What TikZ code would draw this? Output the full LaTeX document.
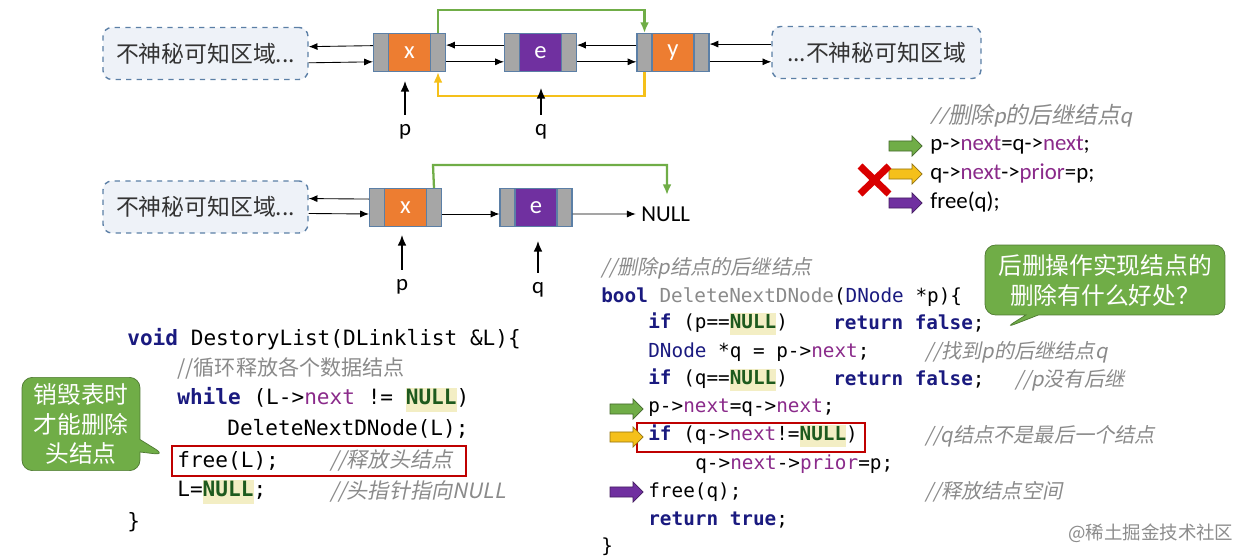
\documentclass[tikz,border=0pt]{standalone}
\usepackage{fontspec}
\usetikzlibrary{arrows.meta,shapes.arrows,shapes.callouts}
\setmainfont{Carlito}
\setmonofont{DejaVu Sans Mono}
\newfontfamily\cjk{Noto Sans CJK SC}
\newfontfamily\cjki[FakeSlant=0.2]{Noto Sans CJK SC}
\newfontfamily\cali[FakeSlant=0.2]{Carlito}
\definecolor{kwc}{HTML}{1A1A7F}
\definecolor{pur}{HTML}{8A2A8A}
\definecolor{nlc}{HTML}{1E5A1E}
\definecolor{nlbg}{HTML}{F3EEC4}
\definecolor{cmc}{HTML}{8A8A8A}
\definecolor{orn}{HTML}{ED7D31}
\definecolor{vio}{HTML}{7030A0}
\definecolor{gcell}{HTML}{A6A6A6}
\definecolor{gbord}{HTML}{5B7FA6}
\definecolor{grn}{HTML}{70AD47}
\definecolor{yel}{HTML}{F5C01A}
\definecolor{cloudf}{HTML}{EEF2F8}
\newcommand{\kw}[1]{\textcolor{kwc}{\bfseries #1}}
\newcommand{\pp}[1]{\textcolor{pur}{#1}}
\newcommand{\nl}{{\setlength{\fboxsep}{0pt}\colorbox{nlbg}{\strut\textcolor{nlc}{\bfseries NULL}}}}
\newcommand{\lnode}[5]{%
  \node[cellg] (#1-l) at (#2-28.5,#3) {};
  \node[cellc,fill=#4] (#1) at (#2,#3) {#5};
  \node[cellg] (#1-r) at (#2+28.5,#3) {};}
\begin{document}
\begin{tikzpicture}[x=0.02cm,y=-0.02cm,
  cellg/.style={draw=gbord,fill=gcell,minimum width=0.3cm,minimum height=0.76cm,inner sep=0pt,line width=0.6pt},
  cellc/.style={draw=gbord,minimum width=0.84cm,minimum height=0.76cm,inner sep=0pt,text=white,font=\fontsize{14}{14}\selectfont,line width=0.6pt},
  cloud/.style={draw=gbord,dashed,fill=cloudf,rounded corners=5pt,minimum width=4.1cm,minimum height=1.04cm,font=\cjk\fontsize{13}{13}\selectfont,text=black!80,line width=0.8pt},
  link/.style={-{Latex[length=5pt,width=4pt]},line width=0.5pt},
  ptr/.style={-{Latex[length=6pt,width=5pt]},line width=0.9pt},
  lbl/.style={font=\fontsize{13}{13}\selectfont},
  blk/.style={single arrow,minimum height=0.66cm,minimum width=0.4cm,single arrow head extend=2.5pt,inner sep=2.4pt,draw=#1!60!black,fill=#1},
  lcode/.style={anchor=west,inner sep=0pt,font=\ttfamily\fontsize{12}{14}\selectfont},
  rcode/.style={anchor=west,inner sep=0pt,font=\ttfamily\fontsize{11}{13}\selectfont},
  cmt/.style={anchor=west,inner sep=0pt,text=cmc,font=\cjki\fontsize{11.5}{13}\selectfont},
  callg/.style={rectangle callout,fill=grn,draw=grn!70!black,rounded corners=6pt,text=white,align=center,font=\cjk\fontsize{13.5}{17}\selectfont}]
\useasboundingbox (0,0) rectangle (1243,560);
% ---------- top list
\node[cloud] (c1) at (205.5,53.5) {不神秘可知区域...};
\node[cloud,minimum width=4.18cm] (c2) at (876.5,52.5) {...不神秘可知区域};
\lnode{x}{409.5}{52.5}{orn}{x}
\lnode{e}{540.5}{52.5}{vio}{e}
\lnode{y}{673}{52.5}{orn}{y}
\draw[link] ([yshift=3.9pt]x-l.west) -- ([yshift=3.9pt]c1.east);
\draw[link] ([yshift=-5.3pt]c1.east) -- ([yshift=-5.3pt]x-l.west);
\draw[link] ([yshift=4.2pt]e-l.west) -- ([yshift=4.2pt]x-r.east);
\draw[link] ([yshift=-5.3pt]x-r.east) -- ([yshift=-5.3pt]e-l.west);
\draw[link] ([yshift=4.2pt]y-l.west) -- ([yshift=4.2pt]e-r.east);
\draw[link] ([yshift=-5.3pt]e-r.east) -- ([yshift=-5.3pt]y-l.west);
\draw[link] ([yshift=4.8pt]c2.west) -- ([yshift=4.8pt]y-r.east);
\draw[link] ([yshift=-5.3pt]y-r.east) -- ([yshift=-5.3pt]c2.west);
\draw[grn,line width=1.3pt,-{Latex[length=6pt,width=5pt]}] (x-r.north) -- ++(0,-23) -| (y-l.north);
\draw[yel,line width=1.3pt,-{Latex[length=6pt,width=5pt]}] (y-l.south) -- ++(0,24) -| (x-r.south);
\node[lbl] (p1) at (405,132) {p};
\node[lbl] (q1) at (541,132) {q};
\draw[ptr] (405,115) -- (405,81);
\draw[ptr] (541,115) -- (541,88);
% ---------- second list
\node[cloud] (c3) at (205.5,207) {不神秘可知区域...};
\lnode{x2}{405.5}{207.5}{orn}{x}
\lnode{e2}{536}{207.5}{vio}{e}
\draw[link] ([yshift=4.8pt]x2-l.west) -- ([yshift=4.8pt]c3.east);
\draw[link] ([yshift=-3.7pt]c3.east) -- ([yshift=-3.7pt]x2-l.west);
\draw[link] ([yshift=-3.7pt]x2-r.east) -- ([yshift=-3.7pt]e2-l.west);
\node[lbl,anchor=west,inner sep=0pt] (nul) at (641,214) {NULL};
\draw[link] ([yshift=-3.7pt]e2-r.east) -- ([xshift=-3pt]nul.west);
\draw[grn,line width=1.3pt,-{Latex[length=6pt,width=5pt]}] (x2-r.north) -- (433,165) -| (667,195);
\node[lbl] (p2) at (402,287) {p};
\node[lbl] (q2) at (538,290) {q};
\draw[ptr] (402,270) -- (402,235);
\draw[ptr] (538,273) -- (538,241);
% ---------- top right
\node[anchor=west,inner sep=0pt,text=cmc,font=\fontsize{13}{13}\selectfont] (tc) at (930,116) {{\cali//}{\cjki 删除}{\cali p}{\cjki 的后继结点}{\cali q}};
\node[anchor=west,inner sep=0pt,lbl] (t1) at (930,145) {p->\pp{next}=q->\pp{next};};
\node[anchor=west,inner sep=0pt,lbl] (t2) at (930,173) {q->\pp{next}->\pp{prior}=p;};
\node[anchor=west,inner sep=0pt,lbl] (t3) at (930,202) {free(q);};
\node[blk=grn] (a1) at (903,146) {};
\node[blk=yel] (a2) at (903,174) {};
\node[blk=vio] (a3) at (903,203) {};
\draw[red!85!black,line width=4pt] (860,166) -- (889,194) (860,194) -- (889,166);
% ---------- callouts
\node[callg,minimum width=4.8cm,minimum height=1.4cm,callout absolute pointer={(1005,328)}] (cb1) at (1105,280) {后删操作实现结点的\\删除有什么好处？};
\node[callg,minimum width=2.36cm,minimum height=1.84cm,callout absolute pointer={(165,455)}] (cb2) at (81,424) {销毁表时\\才能删除\\头结点};
% ---------- left code
\node[lcode] (l1) at (127,339) {\kw{void} DestoryList(DLinklist \&L)\{};
\node[cmt,font=\cjk\fontsize{12}{14}\selectfont] (l2) at (177,368) {//循环释放各个数据结点};
\node[lcode] (l3) at (177,400) {\kw{while} (L->\pp{next} != \nl)};
\node[lcode] (l4) at (227,429) {DeleteNextDNode(L);};
\node[lcode] (l5) at (177,461) {free(L);};
\node[cmt,font=\cjki\fontsize{12}{14}\selectfont] (l5c) at (330,461) {//释放头结点};
\node[lcode] (l6) at (177,492) {L=\nl;};
\node[cmt,font=\cjki\fontsize{12}{14}\selectfont] (l6c) at (330,492) {//头指针指向NULL};
\node[lcode] (l7) at (127,522) {\}};
\draw[red!75!black,line width=1.5pt] (172,446) rectangle (466,476);
% ---------- right code
\node[cmt] (r0) at (601,268) {//删除p结点的后继结点};
\node[rcode] (r1) at (601,297) {\kw{bool} \textcolor{cmc}{DeleteNextDNode}(\textcolor{kwc}{DNode} *p)\{};
\node[rcode] (r2) at (648,324) {\kw{if} (p==\nl)};
\node[rcode] (r2b) at (833,324) {\kw{return false};};
\node[rcode] (r3) at (648,352) {\textcolor{kwc}{DNode} *q = p->\pp{next};};
\node[cmt] (r3c) at (925,352) {//找到p的后继结点q};
\node[rcode] (r4) at (648,380) {\kw{if} (q==\nl)};
\node[rcode] (r4b) at (833,380) {\kw{return false};};
\node[cmt] (r4c) at (1015,380) {//p没有后继};
\node[rcode] (r5) at (648,408) {p->\pp{next}=q->\pp{next};};
\node[rcode] (r6) at (648,436) {\kw{if} (q->\pp{next}!=\nl)};
\node[cmt] (r6c) at (925,436) {//q结点不是最后一个结点};
\node[rcode] (r7) at (695,464) {q->\pp{next}->\pp{prior}=p;};
\node[rcode] (r8) at (648,492) {free(q);};
\node[cmt] (r8c) at (925,492) {//释放结点空间};
\node[rcode] (r9) at (648,520) {\kw{return true};};
\node[rcode] (r10) at (601,547) {\}};
\draw[red!75!black,line width=1.5pt] (637,423) rectangle (865,452);
\node[blk=grn] (b1) at (624,409) {};
\node[blk=yel] (b2) at (624,437) {};
\node[blk=vio] (b3) at (624,492) {};
\node[anchor=west,inner sep=0pt,text=black!45,font=\cjk\fontsize{10.5}{12}\selectfont] (wm) at (1068,533) {@稀土掘金技术社区};
\end{tikzpicture}
\end{document}
